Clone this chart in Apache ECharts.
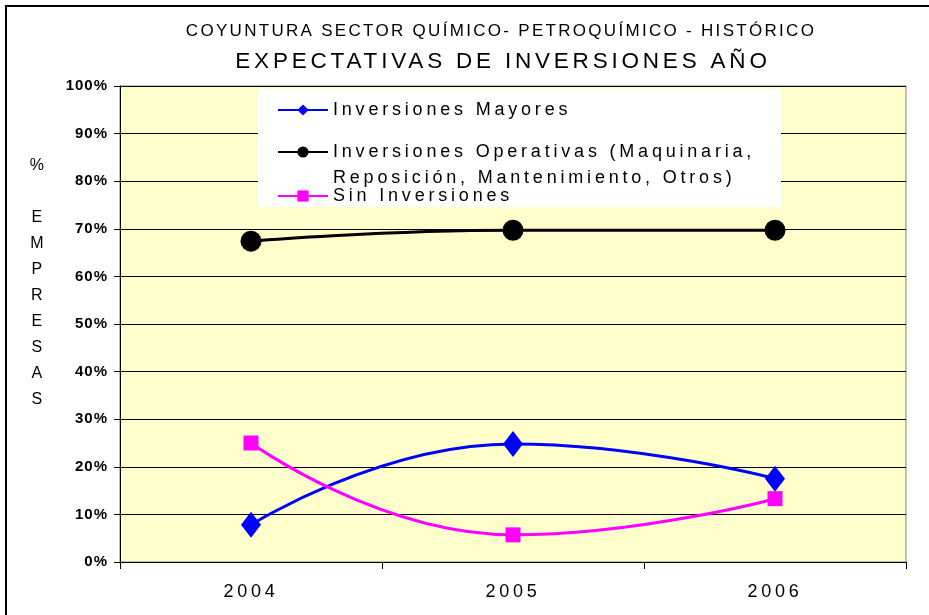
<!DOCTYPE html>
<html><head><meta charset="utf-8">
<script src="https://cdn.jsdelivr.net/npm/echarts@6/dist/echarts.min.js"></script>
<style>html,body{margin:0;padding:0;background:#fff}#c{width:929px;height:615px}</style>
</head><body><div id="c"></div><script>
const categories = ['2004', '2005', '2006'];
const seriesNames = ['Inversiones Mayores', 'Inversiones Operativas (Maquinaria, Reposición, Mantenimiento, Otros)', 'Sin Inversiones'];
const mayores = [7.8, 24.8, 17.5];
const operativas = [67.4, 69.7, 69.7];
const sinInversiones = [25.0, 5.7, 13.3];
const yMin = 0, yMax = 100, yStep = 10;
const titleLine1 = 'COYUNTURA SECTOR QUÍMICO- PETROQUÍMICO - HISTÓRICO';
const titleLine2 = 'EXPECTATIVAS DE INVERSIONES AÑO';
const yAxisTitle = ['%', '', 'E', 'M', 'P', 'R', 'E', 'S', 'A', 'S'];

const FONT = '"Liberation Sans", Arial, sans-serif';
const chart = echarts.init(document.getElementById('c'), null, {renderer: 'canvas'});
const legendText = {color: '#000', fontFamily: FONT, fontSize: 18, lineHeight: 20};
const legendBase = {zlevel: 1, left: 277, padding: 0, itemWidth: 50, itemHeight: 14, itemGap: 0};
chart.setOption({
  animation: false,
  backgroundColor: '#fff',
  graphic: [
    {type: 'rect', z: -1, shape: {x: 6, y: 6, width: 940, height: 640}, style: {fill: 'none', stroke: '#000', lineWidth: 2}},
    {type: 'text', x: 501, y: 31, style: {text: titleLine1, align: 'center', verticalAlign: 'middle', font: '17px ' + FONT, fill: '#000'}},
    {type: 'text', zlevel: 1, x: 503, y: 62, style: {text: titleLine2, align: 'center', verticalAlign: 'middle', font: '22.5px ' + FONT, fill: '#000'}},
    {type: 'text', x: 38, y: 153, style: {text: yAxisTitle.join('\n'), align: 'center', verticalAlign: 'top', font: '16px ' + FONT, lineHeight: 26, fill: '#000'}},
    {type: 'rect', z: 1, shape: {x: 258, y: 89, width: 523, height: 118}, style: {fill: '#fff', stroke: 'none'}}
  ],
  grid: {zlevel: -2, left: 120, right: 23, top: 86, bottom: 53, show: true, backgroundColor: '#FFFFCC', borderColor: '#808080', borderWidth: 1},
  legend: [
    Object.assign({data: [seriesNames[0]], top: 100, textStyle: legendText}, legendBase),
    Object.assign({data: [seriesNames[1]], top: 113,
      formatter: n => '\n' + n.replace('Maquinaria, ', 'Maquinaria,\n'),
      textStyle: Object.assign({}, legendText, {lineHeight: 26})}, legendBase),
    Object.assign({data: [seriesNames[2]], top: 186, textStyle: legendText}, legendBase)
  ],
  xAxis: {
    zlevel: 1,
    type: 'category', data: categories, boundaryGap: true,
    axisLine: {lineStyle: {color: '#000', width: 1}},
    axisTick: {show: true, length: 7, lineStyle: {color: '#000'}},
    axisLabel: {color: '#000', fontFamily: FONT, fontSize: 18, margin: 21}
  },
  yAxis: {
    zlevel: -1,
    type: 'value', min: yMin, max: yMax, interval: yStep,
    axisLine: {show: true, lineStyle: {color: '#000'}},
    axisTick: {show: true, length: 6, lineStyle: {color: '#000'}},
    axisLabel: {color: '#000', fontFamily: FONT, fontSize: 15, fontWeight: 'bold', margin: 12, formatter: '{value}%'},
    splitLine: {show: true, lineStyle: {color: '#000', width: 1}}
  },
  series: [
    {name: seriesNames[0], type: 'line', data: mayores, smooth: true, symbol: 'diamond', symbolSize: [20, 26],
     lineStyle: {color: '#0000FF', width: 3}, itemStyle: {color: '#0000FF'}},
    {name: seriesNames[1], type: 'line', data: operativas, smooth: true, symbol: 'circle', symbolSize: 21,
     lineStyle: {color: '#000000', width: 3}, itemStyle: {color: '#000000'}},
    {name: seriesNames[2], type: 'line', data: sinInversiones, smooth: true, symbol: 'rect', symbolSize: 15,
     lineStyle: {color: '#FF00FF', width: 3}, itemStyle: {color: '#FF00FF'}}
  ]
});

// Wider letter spacing, as in the original Excel rendering (per canvas layer)
(function applySpacing() {
  try {
    const zr = chart.getZr();
    const painter = zr.painter;
    const layers = (painter.getLayers && painter.getLayers()) || painter._layers || {};
    const spacing = {'-2': '0px', '-1': '1px', '0': '2.3px', '1': '3.8px'};
    for (const k in layers) {
      const l = layers[k];
      if (l && l.ctx && 'letterSpacing' in l.ctx) {
        l.ctx.letterSpacing = spacing[k] || '0px';
        l.__dirty = true;
      }
    }
    painter.refresh(true);
  } catch (e) { /* keep default rendering */ }
})();
</script></body></html>
